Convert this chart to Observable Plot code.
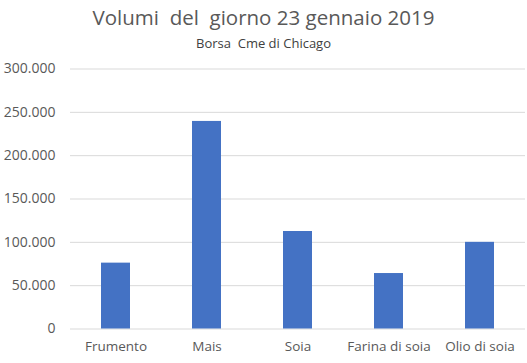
<!DOCTYPE html>
<html>
<head>
<meta charset="utf-8">
<script src="https://cdn.jsdelivr.net/npm/d3@7"></script>
<script src="https://cdn.jsdelivr.net/npm/@observablehq/plot@0.6"></script>
<style>
  html, body { margin: 0; padding: 0; background: #fff; }
  #wrap { width: 527px; font-family: "Open Sans", "Noto Sans", sans-serif; color: #595959; }
  #title { height: 34px; line-height: 34px; font-size: 20.5px; text-align: center; white-space: pre; }
  #subtitle { height: 18px; line-height: 18px; font-size: 13px; text-align: center; white-space: pre; color: #404040; }
</style>
</head>
<body>
<div id="wrap">
  <div id="title">Volumi  del  giorno 23 gennaio 2019</div>
  <div id="subtitle">Borsa  Cme di Chicago</div>
  <div id="chart"></div>
</div>
<script>
const categories = ["Frumento", "Mais", "Soia", "Farina di soia", "Olio di soia"];
const volumes = [76000, 239500, 112500, 64000, 100000];
const yTicks = [0, 50000, 100000, 150000, 200000, 250000, 300000];

const data = categories.map((c, i) => ({cat: c, value: volumes[i]}));
const it = d3.formatLocale({decimal: ",", thousands: ".", grouping: [3], currency: ["", "€"]});
const fmt = it.format(",d");

const chart = Plot.plot({
  width: 527,
  height: 311,
  marginTop: 16.5,
  marginBottom: 34.5,
  marginLeft: 70,
  marginRight: 2,
  style: {fontFamily: "'Open Sans', 'Noto Sans', sans-serif", fontSize: "13.5px", color: "#595959", background: "#fff"},
  x: {domain: categories, paddingInner: 0.685, paddingOuter: 0.3425, label: null},
  y: {domain: [0, 300000], label: null},
  marks: [
    Plot.ruleY(yTicks, {stroke: "#d9d9d9", strokeWidth: 1}),
    Plot.barY(data, {x: "cat", y: "value", fill: "#4472C4"}),
    Plot.axisX({tickSize: 0, tickPadding: 12, fontSize: 13.5}),
    Plot.axisY({ticks: yTicks, tickFormat: fmt, tickSize: 0, tickPadding: 15, fontSize: 14})
  ]
});
document.getElementById("chart").appendChild(chart);
</script>
</body>
</html>
